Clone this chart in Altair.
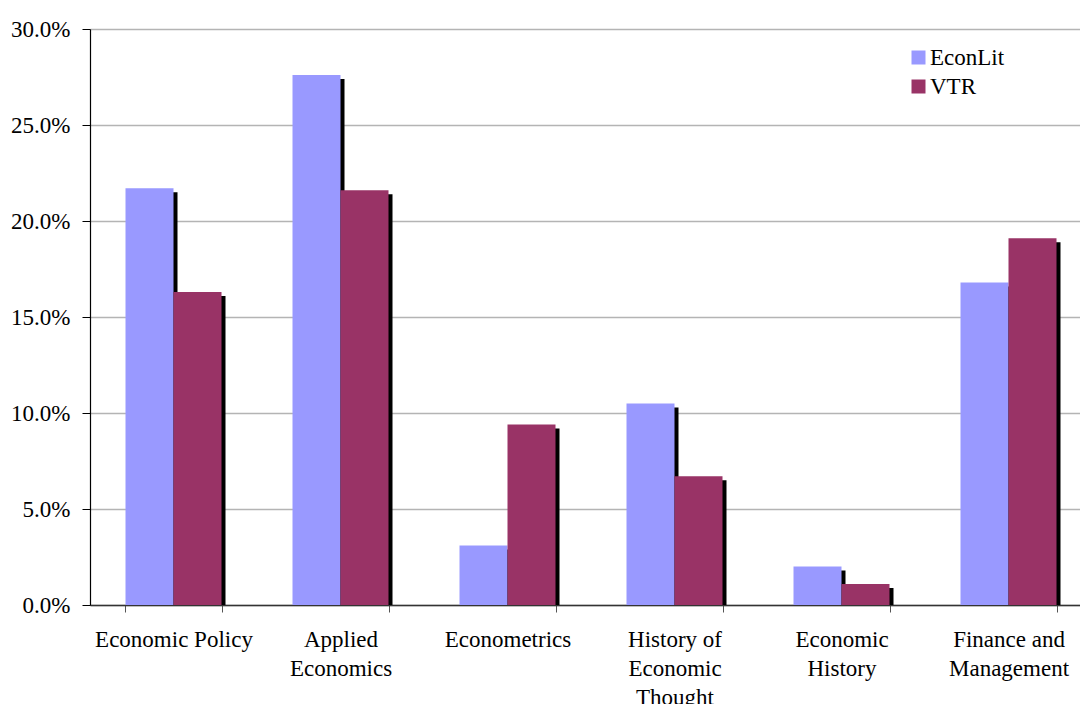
import altair as alt
import pandas as pd

# Share of articles by field, EconLit vs VTR
categories = [
    "Economic Policy",
    "Applied Economics",
    "Econometrics",
    "History of Economic Thought",
    "Economic History",
    "Finance and Management",
]
econlit = [0.217, 0.276, 0.031, 0.105, 0.020, 0.168]
vtr = [0.163, 0.216, 0.094, 0.067, 0.011, 0.191]
series = ["EconLit", "VTR"]
colors = ["#9999FF", "#993366"]

rows = []
for c, a, b in zip(categories, econlit, vtr):
    rows.append({"field": c, "source": "EconLit", "share": a})
    rows.append({"field": c, "source": "VTR", "share": b})
df = pd.DataFrame(rows)

wrapped = {
    "Applied Economics": ["Applied", "Economics"],
    "History of Economic Thought": ["History of", "Economic", "Thought"],
    "Economic History": ["Economic", "History"],
    "Finance and Management": ["Finance and", "Management"],
}
label_expr = "datum.label"
for k, v in wrapped.items():
    arr = "[" + ",".join("'%s'" % s for s in v) + "]"
    label_expr = "datum.label == '%s' ? %s : (%s)" % (k, arr, label_expr)

FONT = "Liberation Serif"
FS = 23
BAR_W = 48
STEP = 167

x_enc = alt.X(
    "field:N",
    sort=categories,
    title=None,
    scale=alt.Scale(range=[0, STEP * len(categories)], paddingInner=0.425, paddingOuter=0.2125),
    axis=alt.Axis(
        labelAngle=0,
        labelExpr=label_expr,
        labelFont=FONT,
        labelFontSize=FS,
        labelColor="black",
        labelLineHeight=29,
        labelPadding=16,
        labelBaseline="top",
        tickBand="extent",
        tickColor="#555555",
        tickSize=7,
        domainColor="#333333",
        domainWidth=1.5,
        grid=False,
    ),
)
y_enc = alt.Y(
    "share:Q",
    title=None,
    scale=alt.Scale(domain=[0, 0.30], nice=False),
    axis=alt.Axis(
        format=".1%",
        values=[0, 0.05, 0.10, 0.15, 0.20, 0.25, 0.30],
        labelFont=FONT,
        labelFontSize=FS,
        labelColor="black",
        labelPadding=12,
        tickColor="black",
        tickSize=8,
        domainColor="black",
        domainWidth=1.2,
        gridColor="#B4B4B4",
        gridWidth=1.5,
    ),
)
y2_enc = alt.Y2(datum=0)

color_enc = alt.Color(
    "source:N",
    sort=series,
    scale=alt.Scale(domain=series, range=colors),
    legend=alt.Legend(
        title=None,
        orient="none",
        legendX=817,
        legendY=17,
        symbolType="square",
        symbolSize=196,
        symbolStrokeWidth=0,
        labelFont=FONT,
        labelFontSize=FS,
        labelColor="black",
        labelOffset=0,
        rowPadding=5,
        padding=0,
    ),
)

layers = []
# drop shadows first, so the bars sit on top of them
for i, s in enumerate(series):
    shift = (i - 0.5) * BAR_W
    layers.append(
        alt.Chart(df)
        .transform_filter(alt.datum.source == s)
        .mark_bar(color="black", width=BAR_W, xOffset=shift + 4, yOffset=4)
        .encode(x=x_enc, y=y_enc, y2=y2_enc)
    )
for i, s in enumerate(series):
    shift = (i - 0.5) * BAR_W
    layers.append(
        alt.Chart(df)
        .transform_filter(alt.datum.source == s)
        .mark_bar(width=BAR_W, xOffset=shift)
        .encode(x=x_enc, y=y_enc, y2=y2_enc, color=color_enc)
    )

chart = (
    alt.layer(*layers)
    .properties(
        width=990,
        height=576,
        autosize=alt.AutoSizeParams(type="none"),
        padding={"left": 90, "top": 29, "right": 0, "bottom": 99},
    )
    .configure_view(stroke=None)
    .configure(background="white")
)

chart.save("out.html", embed_options={"renderer": "svg", "actions": False})
